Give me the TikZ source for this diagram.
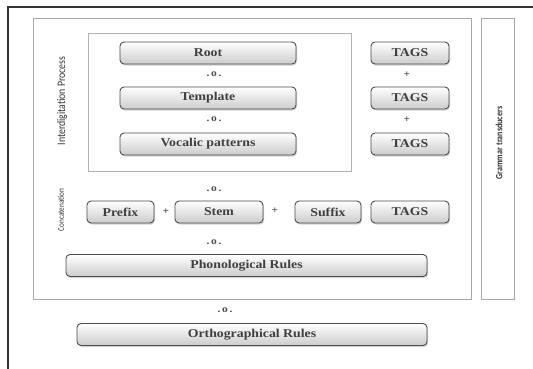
\documentclass[tikz,border=0pt]{standalone}
\usepackage{fontspec}
\setmainfont{Liberation Serif}
\newfontfamily\boxfont[FakeStretch=1.15]{Liberation Serif}
\newfontfamily\sidefont[FakeStretch=0.85]{Carlito}
\usetikzlibrary{shadows}

\begin{document}
\begin{tikzpicture}[x=1pt, y=-1pt,
    stage/.style={draw=gray!60!black, line width=0.9pt, rounded corners=4pt,
      top color=white, bottom color=gray!40, text=black!75,
      drop shadow={shadow xshift=1pt, shadow yshift=-1.5pt, opacity=0.35},
      minimum height=22pt, inner sep=0pt, font=\boxfont\bfseries\fontsize{12}{14}\selectfont},
    comp/.style={font=\boxfont\bfseries\fontsize{10}{11}\selectfont, text=black!70},
    side/.style={rotate=90, text=black!80}]
    \useasboundingbox (0, 0) rectangle (533, 368);
    \fill[white] (0, 0) rectangle (533, 368);
    \draw[black!80, line width=1.2pt] (8, 7) rectangle (560, 390);
    \draw[gray!70, line width=1pt] (33, 18) rectangle (471, 299);
    \draw[gray!70, line width=1pt] (481, 18) rectangle (514, 299);
    \draw[gray!60, line width=0.8pt] (88, 33) rectangle (351, 171);
    \node[side, font=\sidefont\fontsize{11.5}{13}\selectfont] (interlbl) at (62, 101) {Interdigitation Process};
    \node[side, font=\sidefont\fontsize{8.5}{10}\selectfont] (catlbl) at (61, 210) {Concatenation};
    \node[side, font=\sidefont\bfseries\fontsize{9.5}{11}\selectfont] (gramlbl) at (499, 143) {Grammar transducers};

    % interdigitation
    \node[stage, minimum width=176pt] (root) at (208, 53) {Root};
    \node[stage, minimum width=176pt] (templ) at (208, 98) {Template};
    \node[stage, minimum width=176pt] (vocal) at (208, 144) {Vocalic patterns};
    \node[comp] (o1) at (214, 74) {.\,o\,.};
    \node[comp] (o2) at (214, 119) {.\,o\,.};
    \node[stage, minimum width=78pt] (tags1) at (410, 53) {TAGS};
    \node[stage, minimum width=78pt] (tags2) at (410, 98) {TAGS};
    \node[stage, minimum width=78pt] (tags3) at (410, 144) {TAGS};
    \node[comp] (p1) at (407, 75) {+};
    \node[comp] (p2) at (407, 120) {+};

    % concatenation
    \node[comp] (o3) at (214, 189) {.\,o\,.};
    \node[stage, minimum width=67pt] (prefix) at (120.5, 212) {Prefix};
    \node[comp] (p3) at (166, 212) {+};
    \node[stage, minimum width=88pt] (stem) at (219, 212) {Stem};
    \node[comp] (p4) at (275, 211) {+};
    \node[stage, minimum width=66pt] (suffix) at (328, 212) {Suffix};
    \node[stage, minimum width=78pt] (tags4) at (410, 212) {TAGS};
    \node[comp] (o4) at (214, 242) {.\,o\,.};
    \node[stage, minimum width=361pt] (phono) at (246.5, 265.5) {Phonological Rules};

    \node[comp] (o5) at (225, 310) {.\,o\,.};
    \node[stage, minimum width=350pt] (ortho) at (252, 334.5) {Orthographical Rules};
\end{tikzpicture}
\end{document}
